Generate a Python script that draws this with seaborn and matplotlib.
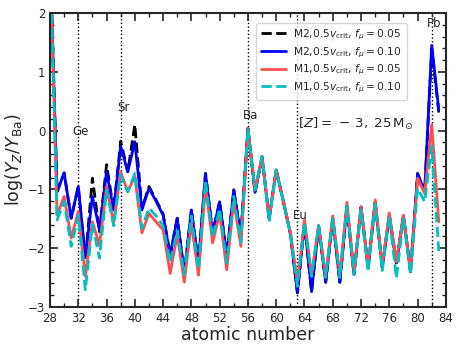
import numpy as np
import pandas as pd
import matplotlib
matplotlib.use("Agg")
import matplotlib.pyplot as plt
import seaborn as sns
from matplotlib.ticker import MultipleLocator

# atomic numbers Z = 28 .. 83
z = list(range(28, 84))

m2_f005 = [3.0, -1.04, -0.72, -1.49, -0.95, -2.20, -0.81, -1.72, -0.58, -1.35,
           -0.18, -0.70, 0.10, -1.33, -0.95, -1.18, -1.42, -2.12, -1.49, -2.43,
           -1.35, -2.26, -0.73, -1.74, -1.21, -2.14, -1.01, -1.80, 0.04, -1.05,
           -0.45, -1.50, -0.67, -1.20, -1.75, -2.76, -1.57, -2.74, -1.62, -2.58,
           -1.49, -2.58, -1.28, -2.45, -1.30, -2.33, -1.22, -2.33, -1.44, -2.25,
           -1.45, -2.40, -0.73, -1.04, 1.40, 0.30]
m2_f010 = [3.0, -1.04, -0.72, -1.49, -0.95, -2.16, -1.12, -1.69, -0.70, -1.35,
           -0.27, -0.70, -0.19, -1.35, -0.98, -1.20, -1.44, -2.12, -1.49, -2.43,
           -1.35, -2.26, -0.73, -1.74, -1.21, -2.14, -1.01, -1.80, 0.04, -1.05,
           -0.45, -1.50, -0.67, -1.20, -1.75, -2.76, -1.57, -2.74, -1.62, -2.58,
           -1.49, -2.58, -1.28, -2.45, -1.30, -2.33, -1.22, -2.33, -1.44, -2.25,
           -1.45, -2.40, -0.73, -1.04, 1.45, 0.35]
m1_f005 = [3.0, -1.44, -1.12, -1.83, -1.38, -2.48, -1.55, -1.95, -0.95, -1.57,
           -0.70, -1.04, -0.78, -1.74, -1.41, -1.55, -1.69, -2.43, -1.77, -2.58,
           -1.57, -2.46, -0.95, -1.91, -1.41, -2.37, -1.20, -1.97, 0.04, -1.01,
           -0.44, -1.50, -0.67, -1.20, -1.72, -2.57, -1.52, -2.46, -1.62, -2.47,
           -1.45, -2.47, -1.22, -2.40, -1.30, -2.30, -1.18, -2.30, -1.40, -2.23,
           -1.44, -2.40, -0.81, -1.07, 0.10, -1.55]
m1_f010 = [3.0, -1.52, -1.21, -1.97, -1.44, -2.71, -1.60, -2.17, -1.01, -1.62,
           -0.75, -1.04, -0.73, -1.66, -1.32, -1.45, -1.62, -2.24, -1.70, -2.45,
           -1.45, -2.36, -0.85, -1.82, -1.33, -2.25, -1.12, -1.90, 0.04, -1.01,
           -0.44, -1.55, -0.67, -1.20, -1.75, -2.65, -1.57, -2.48, -1.62, -2.50,
           -1.50, -2.50, -1.28, -2.45, -1.35, -2.40, -1.25, -2.38, -1.46, -2.51,
           -1.50, -2.45, -0.98, -1.21, -0.27, -2.05]

labels = [r"M2,0.5$v_{\rm crit}$, $f_{\mu}=0.05$",
          r"M2,0.5$v_{\rm crit}$, $f_{\mu}=0.10$",
          r"M1,0.5$v_{\rm crit}$, $f_{\mu}=0.05$",
          r"M1,0.5$v_{\rm crit}$, $f_{\mu}=0.10$"]

marked_z = [32, 38, 56, 63, 82]
marked_el = ["Ge", "Sr", "Ba", "Eu", "Pb"]
marked_y = [-0.02, 0.40, 0.26, -1.44, 1.82]

sns.set_style("ticks")
plt.rcParams["font.family"] = ["DejaVu Sans"]

fig = plt.figure(figsize=(4.63, 3.52), dpi=100)
ax = fig.add_axes([0.108, 0.128, 0.855, 0.835])

styles = [("black", "--"), ("blue", "-"), ("#ff4d4d", "-"), ("#00c0c0", "--")]
for vals, lab, (col, ls) in zip([m2_f005, m2_f010, m1_f005, m1_f010], labels, styles):
    df = pd.DataFrame({"Z": z, "val": vals})
    sns.lineplot(data=df, x="Z", y="val", ax=ax, color=col, linestyle=ls,
                 linewidth=2, label=lab)

for zz, el, yy in zip(marked_z, marked_el, marked_y):
    ax.axvline(zz, color="black", linestyle=":", linewidth=1, zorder=0)
    ax.text(zz + 0.35, yy, el, ha="center", va="center", fontsize=8.5)

ax.text(71.3, 0.12, r"$[Z]=\,-\,3,\;25\,{\rm M}_{\odot}$", ha="center",
        va="center", fontsize=9.6)

ax.set_xlim(28, 84)
ax.set_ylim(-3, 2)
ax.xaxis.set_major_locator(MultipleLocator(4))
ax.xaxis.set_minor_locator(MultipleLocator(2))
ax.yaxis.set_major_locator(MultipleLocator(1))
ax.yaxis.set_minor_locator(MultipleLocator(0.2))
ax.tick_params(which="both", direction="in", top=True, right=True, labelsize=8.5)
ax.tick_params(which="major", length=6, width=1.2)
ax.tick_params(which="minor", length=3, width=1)
for sp in ax.spines.values():
    sp.set_linewidth(1.5)

ax.set_xlabel("atomic number", fontsize=12.5, labelpad=1)
ax.set_ylabel(r"$\log(Y_{Z}/Y_{\rm Ba})$", fontsize=12.5, labelpad=2)

ax.legend(loc="upper left", bbox_to_anchor=(0.508, 0.985), fontsize=7.7,
          handlelength=2.3, handletextpad=0.7, borderpad=0.45,
          labelspacing=0.3)

fig.savefig("out.png", dpi=100)
